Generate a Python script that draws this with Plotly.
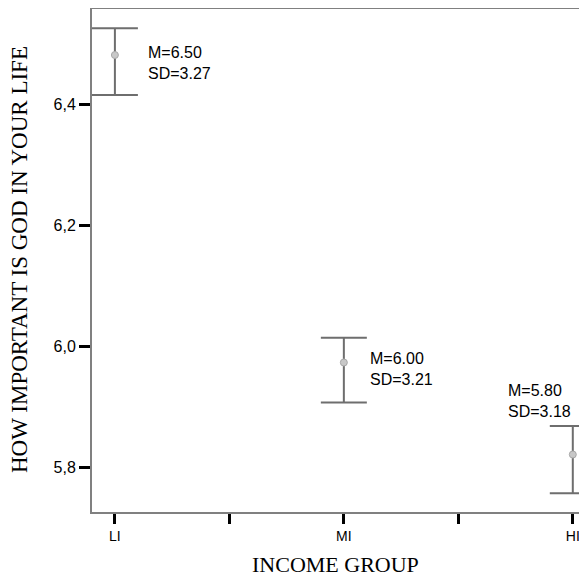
import plotly.graph_objects as go

categories = ["LI", "MI", "HI"]
means = [6.481, 5.973, 5.821]
upper = [6.525, 6.014, 5.868]
lower = [6.415, 5.907, 5.757]
stat_labels = ["M=6.50<br>SD=3.27", "M=6.00<br>SD=3.21", "M=5.80<br>SD=3.18"]

x_tick_vals = [0, 0.5, 1, 1.5, 2]
x_tick_text = ["LI", "", "MI", "", "HI"]
y_tick_vals = [5.8, 6.0, 6.2, 6.4]
y_tick_text = ["5,8", "6,0", "6,2", "6,4"]

xpos = list(range(len(categories)))
err_plus = [u - m for u, m in zip(upper, means)]
err_minus = [m - l for m, l in zip(means, lower)]

fig = go.Figure()
fig.add_trace(go.Scatter(
    x=xpos, y=means, mode="markers",
    marker=dict(symbol="circle", size=7, color="#c8c8c8",
                line=dict(color="#a8a8a8", width=1)),
    error_y=dict(type="data", symmetric=False, array=err_plus, arrayminus=err_minus,
                 color="#6e6e6e", thickness=2, width=23),
    showlegend=False, hoverinfo="skip",
))

# label offsets (pixels) per category
offsets = [(31, -8, "middle", "y"), (24, -7, "middle", "y"), (-67, 4, "bottom", "u")]
for i, (lab, (dx, dy, ya, ref)) in enumerate(zip(stat_labels, offsets)):
    yv = means[i] if ref == "y" else upper[i]
    fig.add_annotation(x=xpos[i], y=yv, xref="x", yref="y", text=lab,
                       showarrow=False, xanchor="left", yanchor=ya,
                       xshift=dx, yshift=dy, align="left",
                       font=dict(family="Liberation Sans, Arial", size=16, color="black"))

fig.add_annotation(x=0.491, y=0, xref="paper", yref="paper", text="INCOME GROUP",
                   showarrow=False, xanchor="center", yanchor="middle", yshift=-52,
                   font=dict(family="Liberation Serif, Times New Roman", size=22, color="black"))
fig.add_annotation(x=0, y=0.501, xref="paper", yref="paper",
                   text="HOW IMPORTANT IS GOD IN YOUR LIFE", textangle=-90,
                   showarrow=False, xanchor="center", yanchor="middle", xshift=-72,
                   font=dict(family="Liberation Serif, Times New Roman", size=23, color="black"))

fig.update_xaxes(range=[-0.1, 2.062], tickvals=x_tick_vals, ticktext=x_tick_text,
                 showgrid=False, zeroline=False, showline=True, linecolor="#808080",
                 linewidth=2, mirror=True, ticks="outside", ticklen=10, tickwidth=3,
                 tickcolor="black",
                 tickfont=dict(family="Liberation Sans, Arial", size=14, color="black"))
fig.update_yaxes(range=[5.726, 6.557], tickvals=y_tick_vals, ticktext=y_tick_text,
                 showgrid=False, zeroline=False, showline=True, linecolor="#808080",
                 linewidth=2, mirror=False, ticks="outside", ticklen=11, tickwidth=3,
                 tickcolor="black",
                 tickfont=dict(family="Liberation Sans, Arial", size=16, color="black"))

# page body has an 8px margin, so the figure is offset by 8px
fig.update_layout(width=579, height=568, margin=dict(l=84, r=0, t=1, b=64),
                  plot_bgcolor="white", paper_bgcolor="white")

fig.write_html("out.html")
